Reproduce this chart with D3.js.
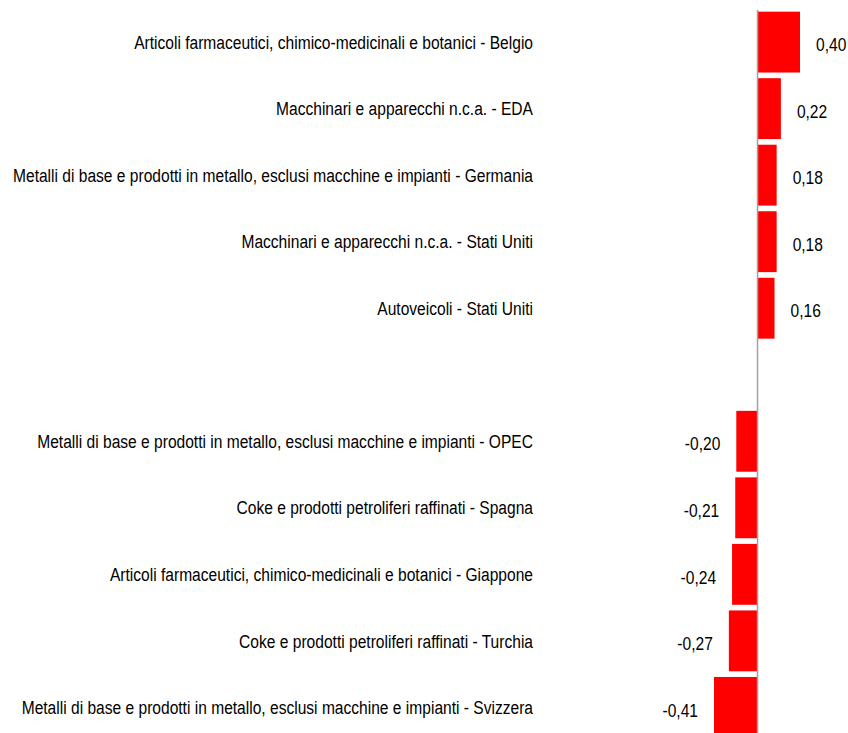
<!DOCTYPE html>
<html>
<head>
<meta charset="utf-8">
<script src="https://cdn.jsdelivr.net/npm/d3@7"></script>
<style>
  body { margin: 0; background: #fff; }
  text { font-family: "Liberation Sans", Arial, sans-serif; fill: #000; }
</style>
</head>
<body>
<div id="chart"></div>
<script>
// categories top to bottom, "" is the empty slot between the two groups
var categories = [
    "Articoli farmaceutici, chimico-medicinali e botanici - Belgio",
    "Macchinari e apparecchi n.c.a. - EDA",
    "Metalli di base e prodotti in metallo, esclusi macchine e impianti - Germania",
    "Macchinari e apparecchi n.c.a. - Stati Uniti",
    "Autoveicoli - Stati Uniti",
    "",
    "Metalli di base e prodotti in metallo, esclusi macchine e impianti - OPEC",
    "Coke e prodotti petroliferi raffinati - Spagna",
    "Articoli farmaceutici, chimico-medicinali e botanici - Giappone",
    "Coke e prodotti petroliferi raffinati - Turchia",
    "Metalli di base e prodotti in metallo, esclusi macchine e impianti - Svizzera"
];
var values = [0.40, 0.22, 0.18, 0.18, 0.16, null, -0.20, -0.21, -0.24, -0.27, -0.41];
var valueLabels = ["0,40", "0,22", "0,18", "0,18", "0,16", "", "-0,20", "-0,21", "-0,24", "-0,27", "-0,41"];

var WIDTH = 848, HEIGHT = 733;
var NARROW = 0.82; // no narrow font installed, squeeze the text instead

var svg = d3.select("#chart")
    .append("svg")
    .attr("width", WIDTH)
    .attr("height", HEIGHT);

var xScale = d3.scaleLinear().domain([-0.41, 0.40]).range([714, 800]);
var yScale = d3.scaleBand()
    .domain(d3.range(categories.length))
    .range([9, 9 + 66.5 * categories.length])
    .paddingInner(0.085)
    .paddingOuter(0.04);

var rows = categories.map(function(c, i) {
    return { cat: c, value: values[i], label: valueLabels[i], i: i };
});
var bars = rows.filter(function(d) { return d.value !== null; });

svg.selectAll("rect.bar")
    .data(bars)
  .enter().append("rect")
    .attr("class", "bar")
    .attr("x", function(d) { return xScale(Math.min(0, d.value)); })
    .attr("y", function(d) { return yScale(d.i); })
    .attr("width", function(d) { return Math.abs(xScale(d.value) - xScale(0)); })
    .attr("height", yScale.bandwidth())
    .attr("fill", "#ff0000");

// zero line
svg.append("line")
    .attr("x1", xScale(0))
    .attr("x2", xScale(0))
    .attr("y1", 10)
    .attr("y2", HEIGHT)
    .attr("stroke", "#a0a0a0")
    .attr("stroke-width", 1.5);

// category labels
svg.selectAll("text.cat")
    .data(bars)
  .enter().append("text")
    .attr("class", "cat")
    .attr("transform", function(d) {
        return "translate(533," + (yScale(d.i) + yScale.bandwidth() / 2) + ") scale(" + NARROW + ",1)";
    })
    .attr("dy", ".35em")
    .style("text-anchor", "end")
    .style("font-size", "19px")
    .text(function(d) { return d.cat; });

// value labels
svg.selectAll("text.val")
    .data(bars)
  .enter().append("text")
    .attr("class", "val")
    .attr("transform", function(d) {
        var x = d.value >= 0 ? xScale(d.value) + 16 : xScale(d.value) - 16;
        return "translate(" + x + "," + (yScale(d.i) + yScale.bandwidth() / 2 + 2.5) + ") scale(" + NARROW + ",1)";
    })
    .attr("dy", ".35em")
    .style("text-anchor", function(d) { return d.value >= 0 ? "start" : "end"; })
    .style("font-size", "19px")
    .text(function(d) { return d.label; });
</script>
</body>
</html>
